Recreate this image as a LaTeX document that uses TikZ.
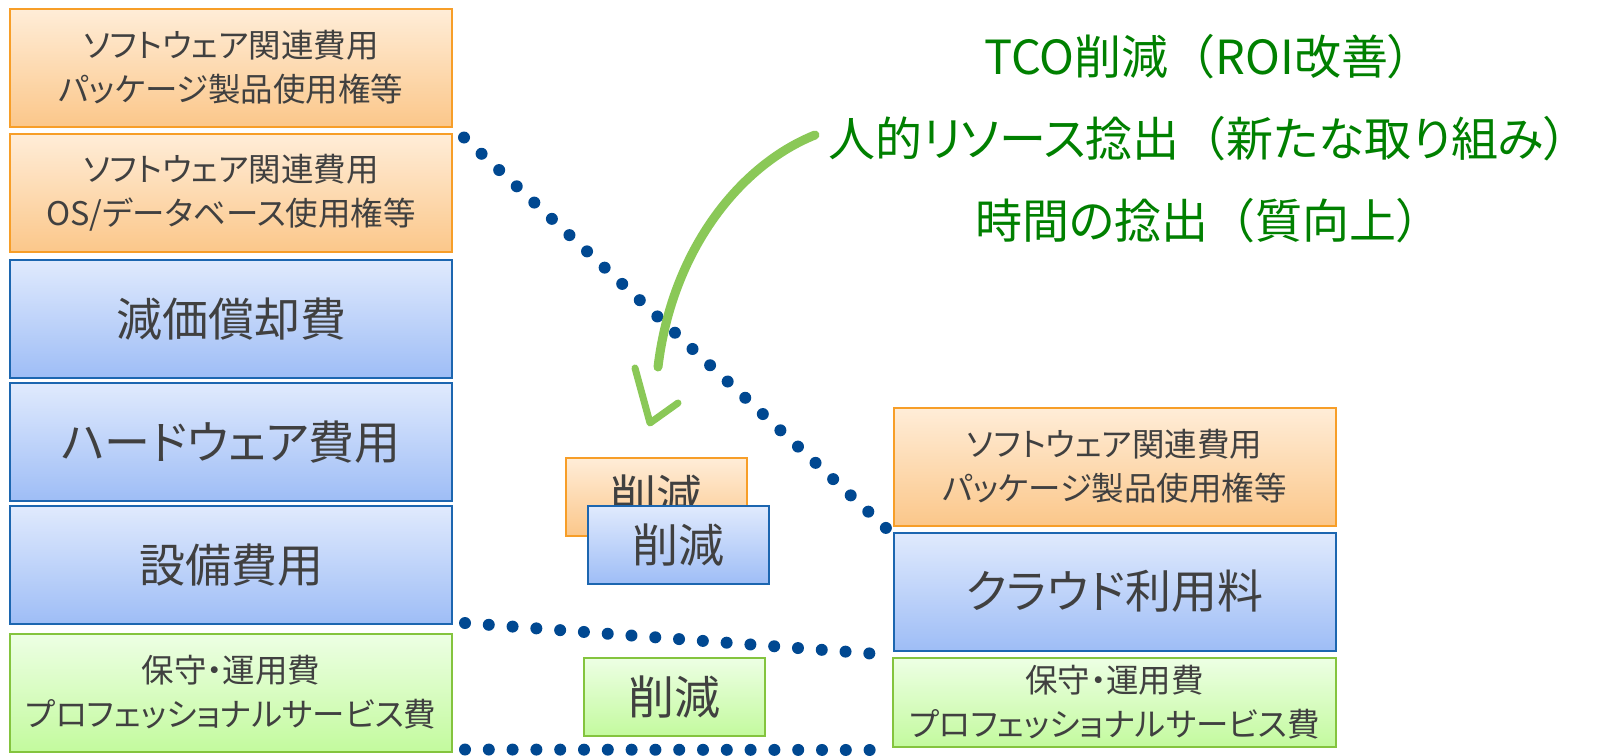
\documentclass[tikz,border=0pt]{standalone}
\usepackage{fontspec}
\setmainfont{Noto Sans CJK JP}[RawFeature=+palt]
\newfontfamily\fullwidthjp{Noto Sans CJK JP}
\newcommand\openpar{{\fullwidthjp （}}
\usetikzlibrary{calc}
\definecolor{txtgray}{RGB}{64,64,64}
\definecolor{swline}{RGB}{247,158,40}
\definecolor{swtop}{RGB}{255,237,216}
\definecolor{swbot}{RGB}{251,199,138}
\definecolor{hwline}{RGB}{28,102,176}
\definecolor{hwtop}{RGB}{224,234,253}
\definecolor{hwbot}{RGB}{158,189,246}
\definecolor{opline}{RGB}{132,196,62}
\definecolor{optop}{RGB}{237,255,228}
\definecolor{opbot}{RGB}{195,250,158}
\definecolor{dotblue}{RGB}{0,72,145}
\definecolor{meritgreen}{RGB}{0,128,0}
\definecolor{brushgreen}{RGB}{118,190,58}
\begin{document}
\begin{tikzpicture}[x=1pt, y=-1pt,
    box/.style={rectangle, draw, line width=2pt, inner sep=0pt, text=txtgray, align=center},
    swbox/.style={box, draw=swline, top color=swtop, bottom color=swbot},
    hwbox/.style={box, draw=hwline, top color=hwtop, bottom color=hwbot},
    opbox/.style={box, draw=opline, top color=optop, bottom color=opbot},
    wide/.style={minimum width=442pt, minimum height=118pt},
    cutbox/.style={minimum width=181pt, minimum height=78pt, font=\fontsize{46}{50}\selectfont},
    small/.style={font=\fontsize{32.5}{44}\selectfont},
    large/.style={font=\fontsize{46}{50}\selectfont},
    dotline/.style={dotblue, line width=12pt, line cap=round, dash pattern=on 0pt off #1},
    brush/.style={brushgreen, opacity=0.85, line cap=round, line join=round}]
                \useasboundingbox (0,0) rectangle (1605,755);
                \node [swbox, wide, small] (sw1) at (231,67.5) {ソフトウェア関連費用\\パッケージ製品使用権等};
                \node [swbox, wide, small] (sw2) at (231,193) {ソフトウェア関連費用\\OS/データベース使用権等};
                \node [hwbox, wide, large] (dep) at (231,319) {減価償却費};
                \node [hwbox, wide, large] (hw) at (231,442) {ハードウェア費用};
                \node [hwbox, wide, large] (fac) at (231,565) {設備費用};
                \node [opbox, wide, small] (ops) at (231,692.5) {保守・運用費\\プロフェッショナルサービス費};
                \node [swbox, cutbox] (swcut) at (656.5,496.5) {削減};
                \node [hwbox, cutbox] (hwcut) at (678,545) {削減};
                \node [opbox, cutbox] (opcut) at (674,697) {削減};
                \node [swbox, wide, small] (rsw) at (1114.5,466.5) {ソフトウェア関連費用\\パッケージ製品使用権等};
                \node [hwbox, wide, large] (cloud) at (1114.5,591.5) {クラウド利用料};
                \node [opbox, minimum width=443pt, minimum height=89pt, small] (rops) at (1114.5,702.5) {保守・運用費\\プロフェッショナルサービス費};
                \draw [dotline=23.95pt] ([shift={(11,10)}]sw1.south east) -- ([shift={(-6,2)}]rsw.south west);
                \draw [dotline=23.85pt] ([shift={(12,-2)}]fac.south east) -- ([shift={(-22,2)}]cloud.south west);
                \draw [dotline=23.8pt] ([shift={(12,-3)}]ops.south east) -- ([shift={(-22,2)}]rops.south west);
                \node [text=meritgreen, align=center, inner sep=0pt, font=\fontsize{47}{82}\selectfont] (merit) at (1198,139) {TCO削減\openpar ROI改善）\\人的リソース捻出\openpar 新たな取り組み）\\時間の捻出\openpar 質向上）};
                \coordinate (brushA) at (815,135);
                \coordinate (brushB) at (658,367);
                \coordinate (tipL) at (635,368);
                \coordinate (tipM) at (650,423);
                \coordinate (tipR) at (678,403);
                \draw [brush, line width=9pt] (brushA) .. controls (740,165) and (672,250) .. (brushB);
                \draw [brush, line width=7pt] (tipL) -- (tipM) -- (tipR);
            \end{tikzpicture}
\end{document}
